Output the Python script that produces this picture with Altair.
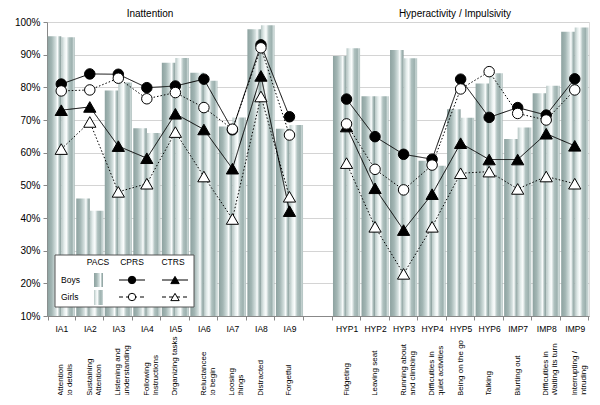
import altair as alt
import pandas as pd

codes = ["IA1", "IA2", "IA3", "IA4", "IA5", "IA6", "IA7", "IA8", "IA9",
         "HYP1", "HYP2", "HYP3", "HYP4", "HYP5", "HYP6", "IMP7", "IMP8", "IMP9"]
domain_codes = codes[:9] + [" "] + codes[9:]
groups = ["IA"] * 9 + ["HI"] * 9
descs = ["Attention\nto details", "Sustaining\nAttention", "Listening and\nunderstanding",
         "Following\nInstructions", "Organizing  tasks", "Reluctancee\nto begin",
         "Loosing\nthings", "Distracted", "Forgetful",
         "Fidgeting", "Leaving seat", "Running about\nand climbing",
         "Difficulties in\nquiet activities", "Being on the go", "Talking",
         "Blurting out", "Difficulties in\nWaiting its turn", "Interrupting /\nintruding"]

pacs_boys = [95.6, 46.0, 79.0, 67.5, 87.5, 84.5, 68.0, 97.8, 67.3,
             89.6, 77.3, 91.4, 57.5, 73.3, 81.2, 64.2, 78.2, 97.0]
pacs_girls = [95.3, 42.2, 81.5, 66.0, 89.0, 82.0, 70.8, 99.0, 68.5,
              92.0, 77.3, 88.9, 56.0, 70.7, 84.3, 67.7, 80.5, 98.3]
cprs_boys = [81.0, 84.1, 84.0, 79.9, 80.4, 82.5, 67.0, 93.0, 71.0,
             76.4, 64.9, 59.5, 58.0, 82.5, 70.8, 73.8, 71.5, 82.6]
cprs_girls = [78.9, 79.2, 82.8, 76.5, 78.4, 73.8, 67.2, 92.1, 65.4,
              68.8, 54.9, 48.6, 56.2, 79.5, 84.8, 72.0, 70.0, 79.2]
ctrs_boys = [73.0, 74.0, 62.0, 58.3, 71.9, 67.1, 55.1, 83.5, 42.1,
             68.0, 49.1, 36.3, 47.3, 62.9, 57.9, 57.9, 65.8, 62.1]
ctrs_girls = [61.1, 69.4, 48.0, 50.5, 66.3, 52.7, 39.7, 77.2, 46.5,
              56.8, 37.3, 22.9, 37.3, 53.7, 54.2, 48.9, 52.7, 50.5]

FONT = "Liberation Sans"
W, H = 542, 294

bars = pd.DataFrame({
    "code": codes * 2,
    "sex": ["Boys"] * 18 + ["Girls"] * 18,
    "value": [v / 100 for v in pacs_boys + pacs_girls],
})

rows = []
for scale_name, sex, vals in [("CTRS", "Girls", ctrs_girls), ("CTRS", "Boys", ctrs_boys),
                              ("CPRS", "Boys", cprs_boys), ("CPRS", "Girls", cprs_girls)]:
    for c, g, v in zip(codes, groups, vals):
        rows.append({"code": c, "grp": g, "scale": scale_name, "sex": sex, "value": v / 100})
pts = pd.DataFrame(rows)

desc_df = pd.DataFrame({"code": codes, "desc": descs})

xenc = alt.X("code:N", scale=alt.Scale(domain=domain_codes, paddingInner=0.05, paddingOuter=0.025),
             sort=domain_codes,
             axis=alt.Axis(title=None, labelAngle=0, tickBand="extent", labelFontSize=8.5,
                           labelPadding=4, tickSize=4, domainColor="#888888", tickColor="#888888",
                           labelColor="#000000", labelFont=FONT))
yscale = alt.Scale(domain=[0.1, 1.0], zero=False, nice=False)
yenc = alt.Y("value:Q", scale=yscale,
             axis=alt.Axis(title=None, format=".0%", values=[0.1, 0.2, 0.3, 0.4, 0.5, 0.6, 0.7, 0.8, 0.9, 1.0],
                           labelFontSize=10, labelFont=FONT, labelColor="#000000", tickSize=4,
                           domainColor="#888888", tickColor="#888888", gridColor="#d4d4d4", labelPadding=3))


def grad(stops):
    return alt.Gradient(gradient="linear", x1=0, x2=1, y1=0, y2=0,
                        stops=[alt.GradientStop(offset=o, color=c) for o, c in stops])


g_boys = grad([(0, "#8da2a0"), (0.3, "#a3b6b4"), (0.6, "#d6e1e0"), (0.72, "#fbfdfd"),
               (0.86, "#adbfbd"), (1, "#869a98")])
g_girls = grad([(0, "#b6c6c4"), (0.22, "#e6eeed"), (0.38, "#fbfdfd"), (0.58, "#afc1bf"),
                (0.8, "#9cb0ae"), (0.92, "#cfdbda"), (1, "#a3b6b4")])

xoff = alt.XOffset("sex:N", scale=alt.Scale(domain=["Boys", "Girls"], paddingInner=0, paddingOuter=0))

bar_layers = []
for sex, g in [("Boys", g_boys), ("Girls", g_girls)]:
    bar_layers.append(
        alt.Chart(bars).transform_filter(alt.datum.sex == sex)
        .mark_bar(fill=g, strokeWidth=0)
        .encode(x=xenc, xOffset=xoff, y=yenc, y2=alt.Y2Datum(datum=0.1))
    )

line_layers = []
point_layers = []
for scale_name, sex in [("CTRS", "Girls"), ("CTRS", "Boys"), ("CPRS", "Boys"), ("CPRS", "Girls")]:
    base = alt.Chart(pts).transform_filter(
        (alt.datum.scale == scale_name) & (alt.datum.sex == sex))
    dash = [1.5, 2] if sex == "Girls" else [1, 0]
    line_layers.append(
        base.mark_line(color="#000000", strokeWidth=1, strokeDash=dash)
        .encode(x=xenc, y=yenc, detail="grp:N")
    )
    shape = "circle" if scale_name == "CPRS" else "triangle-up"
    size = 110 if scale_name == "CPRS" else 150
    fill = "#000000" if sex == "Boys" else "#ffffff"
    point_layers.append(
        base.mark_point(shape=shape, size=size, filled=True, fill=fill, stroke="#000000",
                        strokeWidth=1, opacity=1)
        .encode(x=xenc, y=yenc)
    )

desc_layer = alt.Chart(desc_df).mark_text(
    angle=270, align="left", baseline="middle", lineBreak="\n", fontSize=8, font=FONT,
    color="#000000", lineHeight=9
).encode(x=xenc, y=alt.value(H + 80), text="desc:N")

titles = alt.Chart(pd.DataFrame({"t": ["Inattention", "Hyperactivity / Impulsivity"],
                                 "px": [103, 408]})).mark_text(
    fontSize=10, font=FONT, color="#000000", baseline="alphabetic"
).encode(x=alt.X("px:Q", scale=None), y=alt.value(-5.5), text="t:N")

# legend box
leg_box = alt.Chart(pd.DataFrame({"a": [0]})).mark_rect(
    fill="#ffffff", stroke="#555555", strokeWidth=1
).encode(x=alt.value(8), x2=alt.value(147), y=alt.value(233), y2=alt.value(285))

leg_head = alt.Chart(pd.DataFrame({"t": ["PACS", "CPRS", "CTRS"], "px": [51, 85, 126]})).mark_text(
    fontSize=8.5, font=FONT, color="#000000", baseline="middle"
).encode(x=alt.X("px:Q", scale=None), y=alt.value(240), text="t:N")

leg_rows = alt.Chart(pd.DataFrame({"t": ["Boys", "Girls"], "py": [258, 275]})).mark_text(
    fontSize=8.5, font=FONT, color="#000000", baseline="middle", align="left"
).encode(x=alt.value(14), y=alt.Y("py:Q", scale=None), text="t:N")

sw_boys = alt.Chart(pd.DataFrame({"a": [0]})).mark_rect(fill=g_boys).encode(
    x=alt.value(47), x2=alt.value(56), y=alt.value(251), y2=alt.value(265))
sw_girls = alt.Chart(pd.DataFrame({"a": [0]})).mark_rect(fill=g_girls).encode(
    x=alt.value(47), x2=alt.value(56), y=alt.value(268), y2=alt.value(283))

leg_lines = []
leg_pts = []
for cx, shape, size in [(85, "circle", 55), (128, "triangle-up", 70)]:
    for py, sex in [(258, "Boys"), (275, "Girls")]:
        dash = [1, 0] if sex == "Boys" else [4, 3]
        leg_lines.append(alt.Chart(pd.DataFrame({"a": [0]})).mark_rule(
            color="#000000", strokeWidth=1, strokeDash=dash
        ).encode(x=alt.value(cx - 13), x2=alt.value(cx + 13), y=alt.value(py)))
        leg_pts.append(alt.Chart(pd.DataFrame({"a": [0]})).mark_point(
            shape=shape, size=size, filled=True,
            fill="#000000" if sex == "Boys" else "#ffffff", stroke="#000000", strokeWidth=1, opacity=1
        ).encode(x=alt.value(cx), y=alt.value(py)))

chart = alt.layer(
    *bar_layers, *line_layers, *point_layers, desc_layer, titles,
    leg_box, leg_head, leg_rows, sw_boys, sw_girls, *leg_lines, *leg_pts
).properties(
    width=W, height=H,
    autosize=alt.AutoSizeParams(type="none"),
    padding={"left": 39, "top": 14, "right": 3, "bottom": 79},
).configure_view(stroke="#a0a0a0").configure(font=FONT)

chart.save("out.html", embed_options={"renderer": "svg", "actions": False})
